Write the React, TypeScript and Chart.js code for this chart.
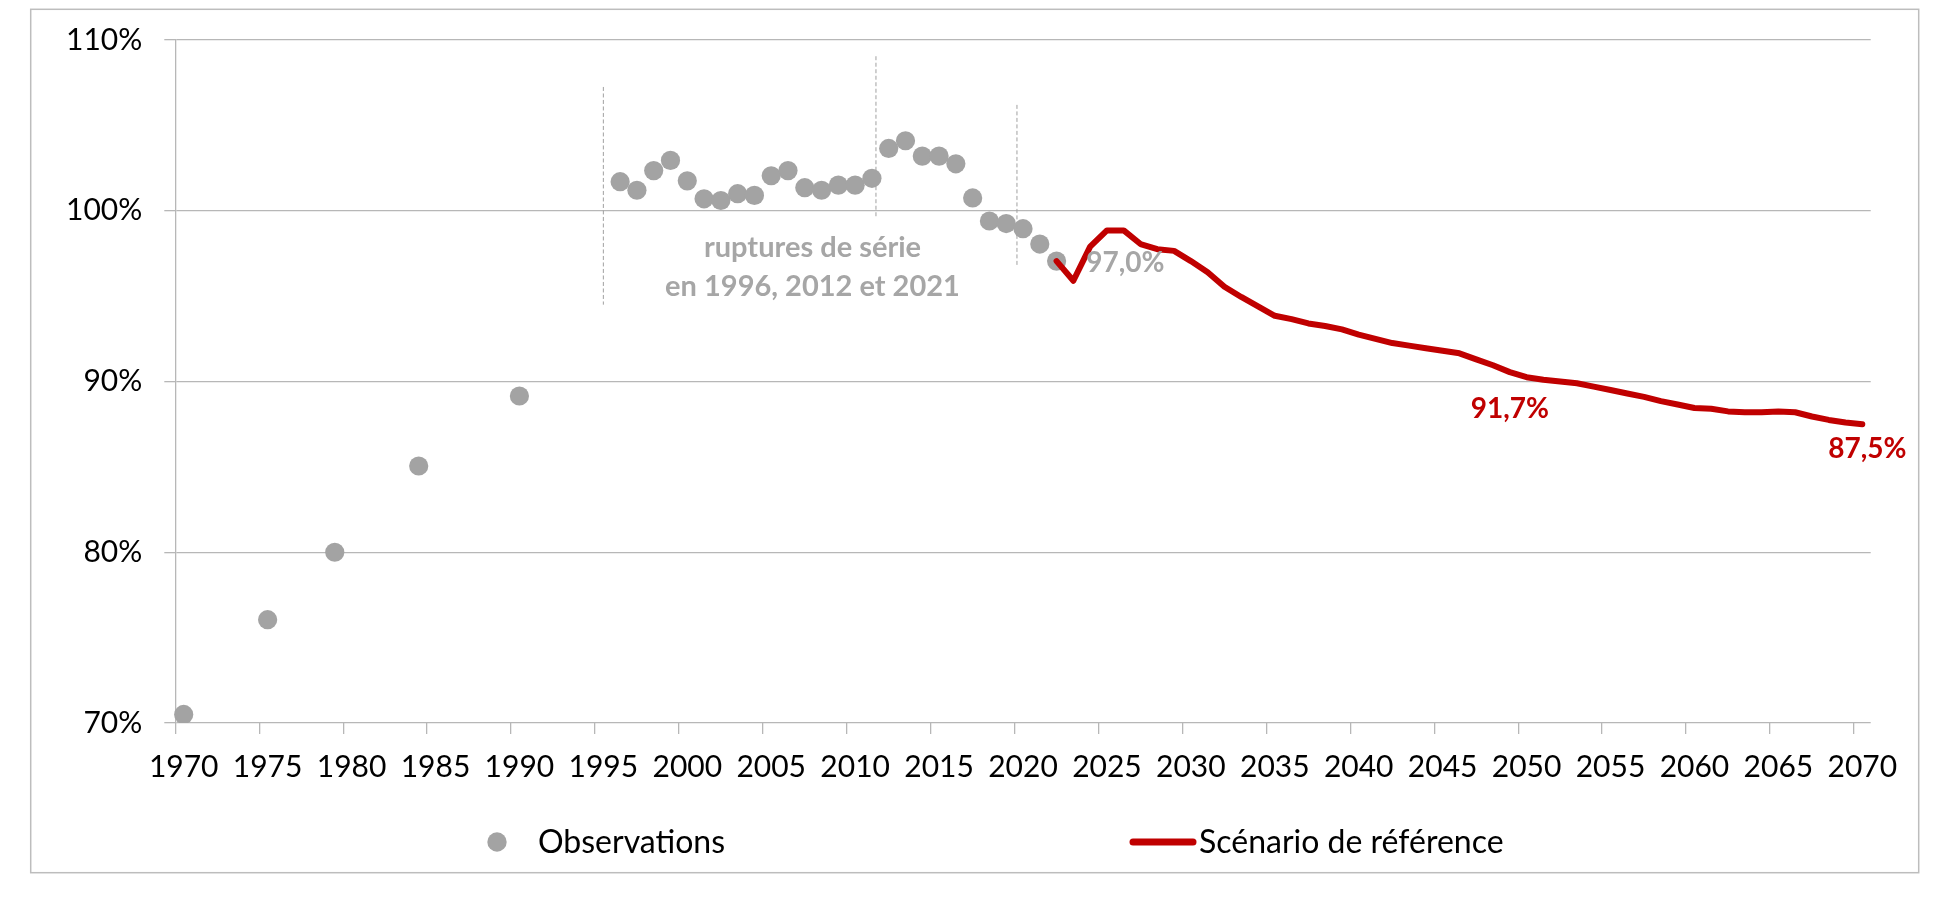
import React, { useEffect, useRef } from 'react';
import { Chart, registerables } from 'chart.js';

Chart.register(...registerables);

// ---- categories (x axis) ----
const FIRST_YEAR = 1970;
const LAST_YEAR = 2070;
const years: number[] = Array.from({ length: LAST_YEAR - FIRST_YEAR + 1 }, (_, i) => FIRST_YEAR + i);

// ---- y tick labels ----
const yTicks = [70, 80, 90, 100, 110];

// ---- Observations ----
const obsYears = [
  1970, 1975, 1979, 1984, 1990,
  1996, 1997, 1998, 1999, 2000, 2001, 2002, 2003, 2004, 2005, 2006, 2007, 2008, 2009, 2010, 2011,
  2012, 2013, 2014, 2015, 2016, 2017, 2018, 2019, 2020, 2021, 2022,
];
const obsValues = [
  70.5, 76.05, 80.0, 85.05, 89.15,
  101.7, 101.2, 102.35, 102.95, 101.75, 100.7, 100.6, 101.0, 100.9, 102.05, 102.35, 101.35, 101.2, 101.5, 101.5, 101.9,
  103.65, 104.1, 103.2, 103.2, 102.75, 100.75, 99.4, 99.25, 98.95, 98.05, 97.05,
];

// ---- Scénario de référence (2022 -> 2070) ----
const scenarioYears = [
  2022, 2023, 2024, 2025, 2026, 2027, 2028, 2029, 2030,
  2031, 2032, 2033, 2034, 2035, 2036, 2037, 2038, 2039, 2040,
  2041, 2042, 2043, 2044, 2045, 2046, 2047, 2048, 2049, 2050,
  2051, 2052, 2053, 2054, 2055, 2056, 2057, 2058, 2059, 2060,
  2061, 2062, 2063, 2064, 2065, 2066, 2067, 2068, 2069, 2070,
];
const scenarioValues = [
  97.05, 95.9, 97.9, 98.85, 98.85, 98.05, 97.75, 97.65, 97.05,
  96.4, 95.55, 94.95, 94.4, 93.85, 93.65, 93.4, 93.25, 93.05, 92.75,
  92.5, 92.25, 92.1, 91.95, 91.8, 91.65, 91.3, 90.95, 90.55, 90.25,
  90.1, 90.0, 89.9, 89.7, 89.5, 89.3, 89.1, 88.85, 88.65, 88.45,
  88.4, 88.25, 88.2, 88.2, 88.25, 88.2, 87.95, 87.75, 87.6, 87.5,
];

// ---- annotations ----
const breakLines = [
  { year: 1995.0, from: 94.5, to: 107.25 },
  { year: 2011.24, from: 99.6, to: 109.05 },
  { year: 2019.64, from: 96.7, to: 106.2 },
];
const breakNoteLines = ['ruptures de série', 'en 1996, 2012 et 2021'];
const breakNoteAnchor = { year: 2007.46, values: [97.3, 94.98] };
const valueLabels = [
  { text: '97,0%', year: 2026.1, value: 96.42, color: '#a6a6a6' },
  { text: '91,7%', year: 2049.0, value: 87.84, color: '#c00000' },
  { text: '87,5%', year: 2070.3, value: 85.5, color: '#c00000' },
];

const FONT = 'Lato, "Open Sans", "DejaVu Sans", sans-serif';
const GRID = '#b7b7b7';
const GRAY_PT = '#a3a3a3';
const RED = '#c00000';

const obsData = years.map((y) => {
  const i = obsYears.indexOf(y);
  return i >= 0 ? obsValues[i] : null;
});
const scenarioData = years.map((y) => {
  const i = scenarioYears.indexOf(y);
  return i >= 0 ? scenarioValues[i] : null;
});

const decorPlugin = {
  id: 'decor',
  beforeDraw(chart: any) {
    const { ctx, width, height } = chart;
    ctx.save();
    ctx.strokeStyle = '#bdbdbd';
    ctx.lineWidth = 1.5;
    ctx.strokeRect(30.7, 9.3, width - 30.7 - 34.3, height - 9.3 - 27.3);
    ctx.restore();
  },
  beforeDatasetsDraw(chart: any) {
    const { ctx } = chart;
    const xs = chart.scales.x;
    const ys = chart.scales.y;
    ctx.save();
    ctx.strokeStyle = '#a0a0a0';
    ctx.lineWidth = 1;
    ctx.setLineDash([4, 2.5]);
    breakLines.forEach((b) => {
      const x = xs.getPixelForValue(b.year - FIRST_YEAR);
      ctx.beginPath();
      ctx.moveTo(x, ys.getPixelForValue(b.to));
      ctx.lineTo(x, ys.getPixelForValue(b.from));
      ctx.stroke();
    });
    ctx.restore();
  },
  afterDatasetsDraw(chart: any) {
    const { ctx } = chart;
    const xs = chart.scales.x;
    const ys = chart.scales.y;
    ctx.save();
    ctx.textAlign = 'center';
    ctx.textBaseline = 'alphabetic';
    ctx.font = `bold 29px ${FONT}`;
    ctx.fillStyle = '#a6a6a6';
    const nx = xs.getPixelForValue(breakNoteAnchor.year - FIRST_YEAR);
    breakNoteLines.forEach((t, i) => {
      ctx.fillText(t, nx, ys.getPixelForValue(breakNoteAnchor.values[i]));
    });
    ctx.font = `bold 28px ${FONT}`;
    valueLabels.forEach((l) => {
      ctx.fillStyle = l.color;
      ctx.fillText(l.text, xs.getPixelForValue(l.year - FIRST_YEAR), ys.getPixelForValue(l.value));
    });
    ctx.restore();
  },
  afterDraw(chart: any) {
    const { ctx } = chart;
    const ds = chart.data.datasets;
    const ly = 842;
    ctx.save();
    ctx.font = `32px ${FONT}`;
    ctx.fillStyle = '#000';
    ctx.textAlign = 'left';
    ctx.textBaseline = 'middle';
    // Observations
    ctx.beginPath();
    ctx.arc(497, ly, 9.7, 0, Math.PI * 2);
    ctx.fillStyle = GRAY_PT;
    ctx.fill();
    ctx.fillStyle = '#000';
    ctx.fillText(ds[1].label, 538, ly + 1);
    // Scenario
    ctx.strokeStyle = RED;
    ctx.lineWidth = 7;
    ctx.lineCap = 'round';
    ctx.beginPath();
    ctx.moveTo(1133, ly);
    ctx.lineTo(1193, ly);
    ctx.stroke();
    ctx.fillText(ds[0].label, 1199, ly + 1);
    ctx.restore();
  },
};

export default function App() {
  const ref = useRef<HTMLCanvasElement | null>(null);

  useEffect(() => {
    if (!ref.current) return;
    const chart = new Chart(ref.current, {
      type: 'line',
      data: {
        labels: years,
        datasets: [
          {
            label: 'Scénario de référence',
            data: scenarioData,
            borderColor: RED,
            backgroundColor: RED,
            borderWidth: 6,
            borderJoinStyle: 'round',
            borderCapStyle: 'round',
            pointRadius: 0,
            pointHoverRadius: 0,
            tension: 0,
            spanGaps: false,
            order: 0,
          },
          {
            label: 'Observations',
            data: obsData,
            showLine: false,
            borderColor: GRAY_PT,
            backgroundColor: GRAY_PT,
            pointBackgroundColor: GRAY_PT,
            pointBorderWidth: 0,
            pointRadius: 9.6,
            pointHoverRadius: 9.6,
            order: 1,
          },
        ],
      },
      options: {
        animation: false,
        responsive: true,
        maintainAspectRatio: false,
        layout: { padding: { left: 0, top: 37.3, right: 82.3, bottom: 0 } },
        plugins: {
          legend: { display: false },
          tooltip: { enabled: false },
        },
        scales: {
          x: {
            type: 'category',
            offset: true,
            afterFit: (s: any) => {
              s.height = 177;
            },
            grid: {
              offset: true,
              drawOnChartArea: false,
              drawTicks: true,
              tickLength: 11,
              color: GRID,
              lineWidth: (c: any) => (typeof c.index === 'number' && c.index % 5 === 0 ? 1.3 : 0),
            },
            border: { display: false },
            ticks: {
              autoSkip: false,
              maxRotation: 0,
              minRotation: 0,
              padding: 15,
              color: '#000',
              font: { family: FONT, size: 30 },
              callback: (_v: any, i: number) => (years[i] % 5 === 0 ? String(years[i]) : ''),
            },
          },
          y: {
            min: 70,
            max: 110,
            afterFit: (s: any) => {
              s.width = 175.3;
            },
            afterBuildTicks: (s: any) => {
              s.ticks = yTicks.map((v) => ({ value: v }));
            },
            grid: {
              color: GRID,
              lineWidth: 1.3,
              tickLength: 11,
              drawTicks: true,
            },
            border: { display: true, color: GRID, width: 1.3 },
            ticks: {
              padding: 22,
              color: '#000',
              font: { family: FONT, size: 30 },
              callback: (v: any) => `${v}%`,
            },
          },
        },
      },
      plugins: [decorPlugin],
    } as any);
    const fonts: any = (document as any).fonts;
    if (fonts && fonts.load) {
      Promise.all([fonts.load(`30px Lato`), fonts.load(`bold 28px Lato`)]).then(() => chart.update()).catch(() => {});
    }
    return () => chart.destroy();
  }, []);

  return (
    <div style={{ position: 'absolute', left: 0, top: 0, width: 1953, height: 900, background: '#fff' }}>
      <canvas ref={ref} />
    </div>
  );
}
